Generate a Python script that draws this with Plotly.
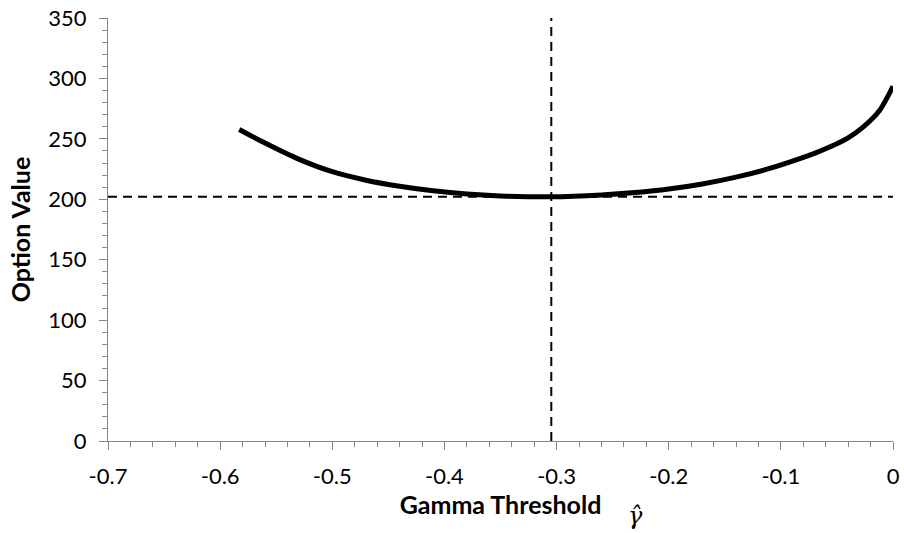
import plotly.graph_objects as go

# Curve data
gamma = [-0.583, -0.56, -0.53, -0.50, -0.47, -0.44, -0.41, -0.38, -0.35, -0.305,
         -0.26, -0.23, -0.20, -0.17, -0.14, -0.11, -0.085, -0.07, -0.055, -0.04,
         -0.027, -0.012, 0.0]
option_value = [257.7, 246.5, 233.2, 222.8, 215.8, 210.8, 207.0, 204.3, 202.8, 202.1,
                203.6, 205.6, 208.5, 212.7, 218.3, 225.5, 233.0, 238.0, 243.8, 250.8,
                259.5, 273.5, 293.5]

# Optimum reference lines
opt_gamma = -0.3047
opt_value = 202.1

x_range = [-0.7, 0.0]
y_range = [0, 350]

x_ticks = [-0.7, -0.6, -0.5, -0.4, -0.3, -0.2, -0.1, 0]
x_tick_labels = ["-0.7", "-0.6", "-0.5", "-0.4", "-0.3", "-0.2", "-0.1", "0"]
y_ticks = [0, 50, 100, 150, 200, 250, 300, 350]

FONT = "Lato"
AXIS_GREY = "#868686"

fig = go.Figure()

fig.add_trace(go.Scatter(
    x=[opt_gamma, opt_gamma], y=y_range, mode="lines",
    line=dict(color="black", width=2, dash="9px,6px"), hoverinfo="skip"))
fig.add_trace(go.Scatter(
    x=x_range, y=[opt_value, opt_value], mode="lines",
    line=dict(color="black", width=2, dash="9px,6px"), hoverinfo="skip"))
fig.add_trace(go.Scatter(
    x=gamma, y=option_value, mode="lines",
    line=dict(color="black", width=5, shape="spline", smoothing=0.8)))

axis_common = dict(
    showgrid=False, zeroline=False, showline=True, linecolor=AXIS_GREY, linewidth=1,
    ticks="outside", ticklen=8, tickwidth=1, tickcolor=AXIS_GREY, automargin=False,
    tickfont=dict(family=FONT, size=22, color="black"),
)

fig.update_layout(
    width=904, height=533,
    margin=dict(l=108, r=11, t=18, b=92),
    paper_bgcolor="white", plot_bgcolor="white",
    showlegend=False,
    xaxis=dict(
        range=x_range, tickvals=x_ticks, ticktext=x_tick_labels,
        minor=dict(dtick=0.02, ticks="outside", ticklen=5, tickwidth=1, tickcolor=AXIS_GREY),
        ticklabelstandoff=8,
        title=dict(text="<b>Gamma Threshold</b>", font=dict(family=FONT, size=25, color="black"),
                   standoff=8),
        **axis_common),
    yaxis=dict(
        range=y_range, tickvals=y_ticks,
        minor=dict(dtick=10, ticks="outside", ticklen=5, tickwidth=1, tickcolor=AXIS_GREY),
        ticklabelstandoff=8,
        title=dict(text="<b>Option Value</b>", font=dict(family=FONT, size=25, color="black"),
                   standoff=10),
        **axis_common),
)

# gamma-hat symbol next to the x-axis title
fig.add_annotation(
    text="<i>γ̂</i>", xref="paper", yref="paper", x=(635 - 108) / 785, y=-(516 - 441) / 423,
    showarrow=False, xanchor="center", yanchor="middle",
    font=dict(family="DejaVu Serif", size=24, color="black"))

fig.write_html("out.html")
